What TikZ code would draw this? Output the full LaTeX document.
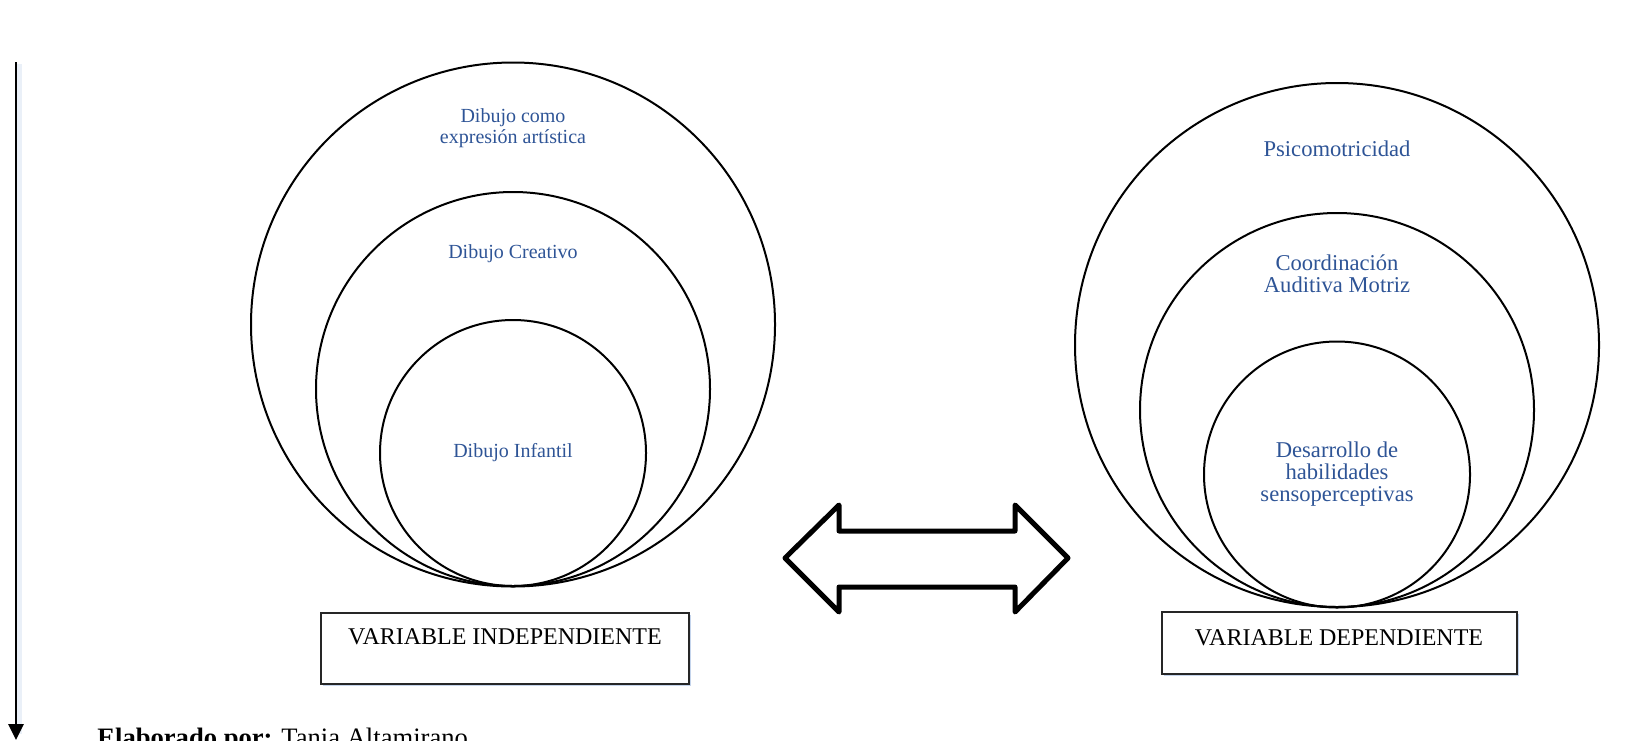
\documentclass[tikz,border=0pt]{standalone}
\usepackage{fontspec}
\setmainfont{Liberation Serif}
\usetikzlibrary{arrows.meta,shadows}
\definecolor{lblblue}{RGB}{46,84,150}
\definecolor{shadowblue}{RGB}{196,212,236}
\tikzset{
  ring/.style={circle, draw=black, line width=1pt, inner sep=0pt},
  lbl/.style={text=lblblue, align=center, inner sep=0pt, font=\fontsize{10}{10.4}\selectfont},
  lblr/.style={lbl, font=\fontsize{11.3}{11.2}\selectfont},
  varbox/.style={rectangle, draw=black!85, fill=white, line width=0.75pt, inner sep=0pt,
     drop shadow={shadow xshift=1.1pt, shadow yshift=-1.1pt, fill=shadowblue, opacity=1}},
  boxtext/.style={inner sep=0pt, font=\fontsize{12}{14}\selectfont},
  bigarrow/.style={draw=black, line width=2.5pt, line join=round, fill=white},
}
\begin{document}
\begin{tikzpicture}[x=0.5pt, y=-0.5pt]
\useasboundingbox (0,0) rectangle (1652,740);
\clip (0,0) rectangle (1652,740);

% left vertical arrow
\coordinate (vt) at (16,62);
\coordinate (vb) at (16,740);
\coordinate (vgt) at (19,64);
\coordinate (vgb) at (19,734);
\draw[shadowblue, line width=3pt, opacity=0.35] (vgt) -- (vgb);
\draw[line width=1.4pt, -{Triangle[width=7.5pt,length=8pt]}] (vt) -- (vb);

% left circles (independent variable)
\node[ring, minimum size=262pt] (lo) at (513,324.5) {};
\node[ring, minimum size=197pt] (lm) at (513,389) {};
\node[ring, minimum size=133pt] (li) at (513,453) {};
\node[lbl] (lot) at (513,128) {Dibujo como\\expresión artística};
\node[lbl] (lmt) at (513,254) {Dibujo Creativo};
\node[lbl] (lit) at (513,453) {Dibujo Infantil};

% right circles (dependent variable)
\node[ring, minimum size=262pt] (ro) at (1337,345) {};
\node[ring, minimum size=197pt] (rm) at (1337,410) {};
\node[ring, minimum size=133pt] (ri) at (1337,474.5) {};
\node[lblr] (rot) at (1337,149) {Psicomotricidad};
\node[lblr] (rmt) at (1337,274) {Coordinación\\Auditiva Motriz};
\node[lblr] (rit) at (1337,474) {Desarrollo de\\habilidades\\sensoperceptivas};

% boxes
\node[varbox, minimum width=184pt, minimum height=35.5pt] (lbox) at (505,648.5) {};
\node[boxtext] (lboxt) at (505,637) {VARIABLE INDEPENDIENTE};
\node[varbox, minimum width=177.5pt, minimum height=31pt] (rbox) at (1339.5,643) {};
\node[boxtext] (rboxt) at (1339,638) {VARIABLE DEPENDIENTE};

% double arrow
\draw[bigarrow] (785,558) -- (839,505) -- (839,531) -- (1015,531) -- (1015,505)
  -- (1068,558) -- (1015,612) -- (1015,587) -- (839,587) -- (839,612) -- cycle;

% credit line (cut off at bottom edge, as in the reference)
\node[anchor=base west, inner sep=0pt, font=\fontsize{13.3}{16}\selectfont] (cred) at (97,746)
  {\textbf{Elaborado por:} Tania Altamirano};
\end{tikzpicture}
\end{document}
